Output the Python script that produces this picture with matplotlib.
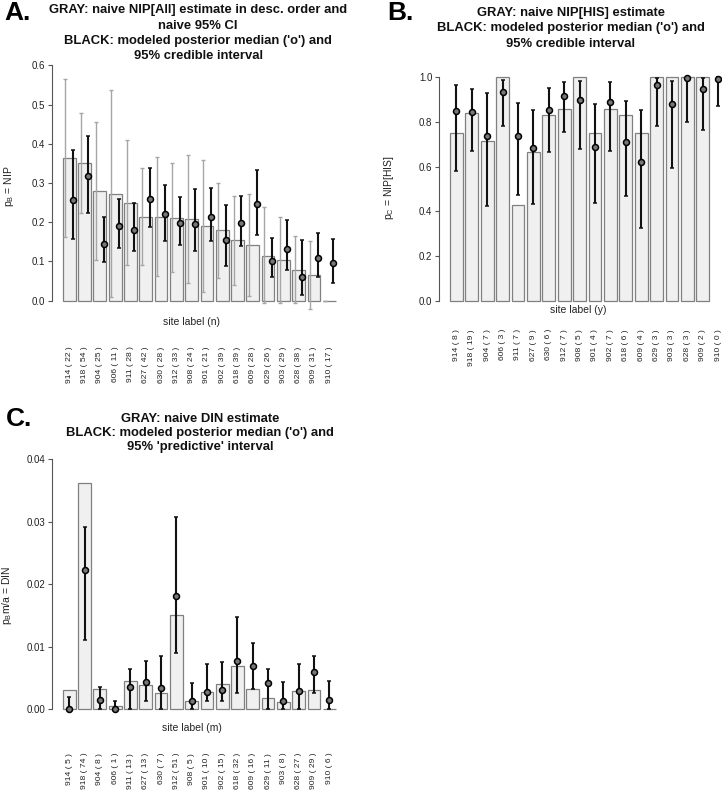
import numpy as np
import matplotlib
matplotlib.use("Agg")
import matplotlib.pyplot as plt
from matplotlib.transforms import blended_transform_factory

plt.rcParams['font.family'] = ['Liberation Sans', 'DejaVu Sans']

# ---------------- data ----------------
sites_A = ["914", "918", "904", "606", "911", "627", "630", "912", "908",
           "901", "902", "618", "609", "629", "903", "628", "909", "910"]
n_A = [22, 54, 25, 11, 28, 42, 28, 33, 24, 21, 39, 39, 28, 26, 29, 38, 31, 17]
y_B = [8, 19, 7, 3, 7, 9, 6, 7, 5, 4, 7, 6, 4, 3, 3, 3, 2, 0]
m_C = [5, 74, 8, 1, 13, 13, 7, 51, 5, 10, 15, 32, 16, 11, 8, 27, 29, 6]

naive_A = [0.364, 0.352, 0.280, 0.273, 0.250, 0.214, 0.214, 0.212, 0.208,
           0.190, 0.179, 0.154, 0.143, 0.115, 0.103, 0.079, 0.065, 0.0]
naive_A_lo = [0.163, 0.224, 0.104, 0.009, 0.090, 0.090, 0.062, 0.073, 0.046,
              0.023, 0.059, 0.041, 0.013, -0.007, -0.007, -0.007, -0.022, 0.0]
naive_A_hi = [0.565, 0.479, 0.456, 0.536, 0.410, 0.338, 0.366, 0.352, 0.371,
              0.358, 0.300, 0.267, 0.272, 0.238, 0.214, 0.165, 0.151, 0.0]
post_A = [0.257, 0.317, 0.145, 0.190, 0.180, 0.260, 0.220, 0.197, 0.196,
          0.213, 0.155, 0.198, 0.247, 0.102, 0.132, 0.061, 0.109, 0.095]
post_A_lo = [0.157, 0.223, 0.098, 0.134, 0.127, 0.187, 0.153, 0.141, 0.126,
             0.151, 0.089, 0.139, 0.168, 0.060, 0.077, 0.014, 0.061, 0.046]
post_A_hi = [0.385, 0.420, 0.214, 0.259, 0.249, 0.339, 0.296, 0.264, 0.285,
             0.287, 0.244, 0.266, 0.333, 0.160, 0.205, 0.155, 0.173, 0.158]

naive_B = [0.75, 0.842, 0.714, 1.0, 0.429, 0.667, 0.833, 0.857, 1.0,
           0.75, 0.857, 0.833, 0.75, 1.0, 1.0, 1.0, 1.0, np.nan]
post_B = [0.849, 0.845, 0.736, 0.936, 0.739, 0.684, 0.854, 0.916, 0.899,
          0.690, 0.890, 0.710, 0.619, 0.966, 0.881, 0.998, 0.948, 0.994]
post_B_lo = [0.582, 0.669, 0.425, 0.784, 0.473, 0.431, 0.664, 0.754, 0.681,
             0.436, 0.669, 0.469, 0.327, 0.782, 0.596, 0.801, 0.764, 0.873]
post_B_hi = [0.966, 0.948, 0.930, 0.988, 0.885, 0.855, 0.952, 0.981, 0.985,
             0.881, 0.981, 0.896, 0.854, 0.999, 0.985, 1.0, 0.999, 1.0]

naive_C = [0.0031, 0.0362, 0.0032, 0.0005, 0.0045, 0.0039, 0.0026, 0.0151, 0.0014,
           0.0027, 0.0040, 0.0069, 0.0033, 0.0018, 0.0012, 0.0030, 0.0031, 0.0]
post_C = [0.0, 0.0223, 0.0015, 0.0, 0.0035, 0.0043, 0.0034, 0.0181, 0.0014,
          0.0028, 0.0031, 0.0077, 0.0069, 0.0042, 0.0014, 0.0029, 0.0059, 0.0015]
post_C_lo = [0.0, 0.0111, 0.0, 0.0, 0.0, 0.0014, 0.0, 0.0090, 0.0,
             0.0013, 0.0014, 0.0026, 0.0032, 0.0, 0.0, 0.0, 0.0026, 0.0]
post_C_hi = [0.0020, 0.0292, 0.0036, 0.0014, 0.0064, 0.0078, 0.0086, 0.0308, 0.0042,
             0.0073, 0.0076, 0.0147, 0.0106, 0.0064, 0.0044, 0.0073, 0.0086, 0.0045]

labels_A = [f"{s} ( {n} )" for s, n in zip(sites_A, n_A)]
labels_B = [f"{s} ( {n} )" for s, n in zip(sites_A, y_B)]
labels_C = [f"{s} ( {n} )" for s, n in zip(sites_A, m_C)]

titles_A = ["GRAY: naive NIP[All] estimate in desc. order and", "naive 95% CI",
            "BLACK: modeled posterior median ('o') and", "95% credible interval"]
titles_B = ["GRAY: naive NIP[HIS] estimate",
            "BLACK: modeled posterior median ('o') and", "95% credible interval"]
titles_C = ["GRAY: naive DIN estimate",
            "BLACK: modeled posterior median ('o') and", "95% 'predictive' interval"]

# ---------------- layout helpers ----------------
W, H = 722, 791
fig = plt.figure(figsize=(W / 100, H / 100), dpi=100)


def rect(l, r, t, b):
    return [l / W, 1 - b / H, (r - l) / W, (b - t) / H]


def fy(p):
    return 1 - p / H


def fx(p):
    return p / W


XLIM = (-0.656, 22.456)
xc = np.array([0.7 + 1.2 * i for i in range(len(sites_A))])

BAR_FC = '#f0f0f0'
BAR_EC = '#808080'
AX_C = '#555555'
TXT_C = '#222222'


def setup_axes(ax, ylim, yticks, yticklabels):
    ax.set_xlim(*XLIM)
    ax.set_ylim(*ylim)
    for s in ['top', 'right', 'bottom']:
        ax.spines[s].set_visible(False)
    ax.spines['left'].set_bounds(yticks[0], yticks[-1])
    ax.spines['left'].set_color(AX_C)
    ax.spines['left'].set_linewidth(0.8)
    ax.set_xticks([])
    ax.set_yticks(yticks)
    ax.set_yticklabels(yticklabels, fontsize=7, color=TXT_C)
    ax.tick_params(axis='y', length=3.2, width=0.8, color=AX_C, pad=1.5)
    ax.patch.set_visible(False)


def xlabels(ax, labels, top_px, xlab, xlab_px, xlab_xpx):
    tr = blended_transform_factory(ax.transData, fig.transFigure)
    for x, lab in zip(xc, labels):
        ax.text(x, fy(top_px), lab, rotation=90, ha='center', va='top',
                fontsize=6.1, color=TXT_C, transform=tr, clip_on=False)
    fig.text(fx(xlab_xpx), fy(xlab_px), xlab, ha='center', va='center',
             fontsize=7.5, color=TXT_C)


def ylabel(text, right_px, center_px):
    fig.text(fx(right_px), fy(center_px), text, rotation=90, ha='right',
             va='center', fontsize=7.5, color=TXT_C)


def title(lines, xpx, y0px, dy=15.3):
    for i, line in enumerate(lines):
        fig.text(fx(xpx), fy(y0px + i * dy), line, ha='center', va='center',
                 fontsize=9.4, fontweight='bold', color='#111111')


def black_ci(ax, x, med, lo, hi):
    med = np.array(med); lo = np.array(lo); hi = np.array(hi)
    ax.errorbar(x, med, yerr=[med - lo, hi - med], fmt='o', color='black',
                ecolor='#111111', elinewidth=1.5, capsize=1.3, capthick=1.2,
                ms=4.3, mfc='#777777', mec='black', mew=1.1, clip_on=False,
                zorder=5)


# ---------------- Panel A ----------------
axA = fig.add_axes(rect(52, 346.5, 55.9, 310.1))
setup_axes(axA, (-0.024, 0.624), [0, 0.1, 0.2, 0.3, 0.4, 0.5, 0.6],
           ['0.0', '0.1', '0.2', '0.3', '0.4', '0.5', '0.6'])
axA.bar(xc, naive_A, width=1.0, color=BAR_FC, edgecolor=BAR_EC, linewidth=0.9,
        zorder=2, clip_on=False)
na = np.array(naive_A)
axA.errorbar(xc - 0.3, na, yerr=[na - np.array(naive_A_lo), np.array(naive_A_hi) - na],
             fmt='none', ecolor='#a6a6a6', elinewidth=1.0, capsize=1.2, capthick=1.0,
             clip_on=False, zorder=3)
black_ci(axA, xc + 0.3, post_A, post_A_lo, post_A_hi)
ylabel(r'$\mathregular{p_B}$ = NIP', 16, 186)
xlabels(axA, labels_A, 346.5, 'site label (n)', 322, 191)
title(titles_A, 198, 10.5)
fig.text(fx(4), fy(13.5), 'A.', fontsize=19, fontweight='bold', ha='left', va='center')

# ---------------- Panel B ----------------
axB = fig.add_axes(rect(439, 439 + 23.112 * 12.83, 68.4, 309.6))
setup_axes(axB, (-0.04, 1.04), [0, 0.2, 0.4, 0.6, 0.8, 1.0],
           ['0.0', '0.2', '0.4', '0.6', '0.8', '1.0'])
axB.bar(xc, naive_B, width=1.0, color=BAR_FC, edgecolor=BAR_EC, linewidth=0.9,
        zorder=2)
black_ci(axB, xc, post_B, post_B_lo, post_B_hi)
ylabel(r'$\mathregular{p_C}$ = NIP[HIS]', 396, 188)
xlabels(axB, labels_B, 329, 'site label (y)', 310, 578)
title(titles_B, 571, 13)
fig.text(fx(387), fy(12.5), 'B.', fontsize=19, fontweight='bold', ha='left', va='center')

# ---------------- Panel C ----------------
axC = fig.add_axes(rect(52, 346.5, 449.3, 719.3))
setup_axes(axC, (-0.0016, 0.0416), [0, 0.01, 0.02, 0.03, 0.04],
           ['0.00', '0.01', '0.02', '0.03', '0.04'])
axC.bar(xc, naive_C, width=1.0, color=BAR_FC, edgecolor=BAR_EC, linewidth=0.9,
        zorder=2, clip_on=False)
black_ci(axC, xc, post_C, post_C_lo, post_C_hi)
ylabel(r'$\mathregular{p_B m/a}$ = DIN', 14, 595)
xlabels(axC, labels_C, 752.7, 'site label (m)', 727.7, 192)
title(titles_C, 200, 419.3, dy=14)
fig.text(fx(6), fy(418.5), 'C.', fontsize=19, fontweight='bold', ha='left', va='center')

fig.savefig('out.png', dpi=100)
